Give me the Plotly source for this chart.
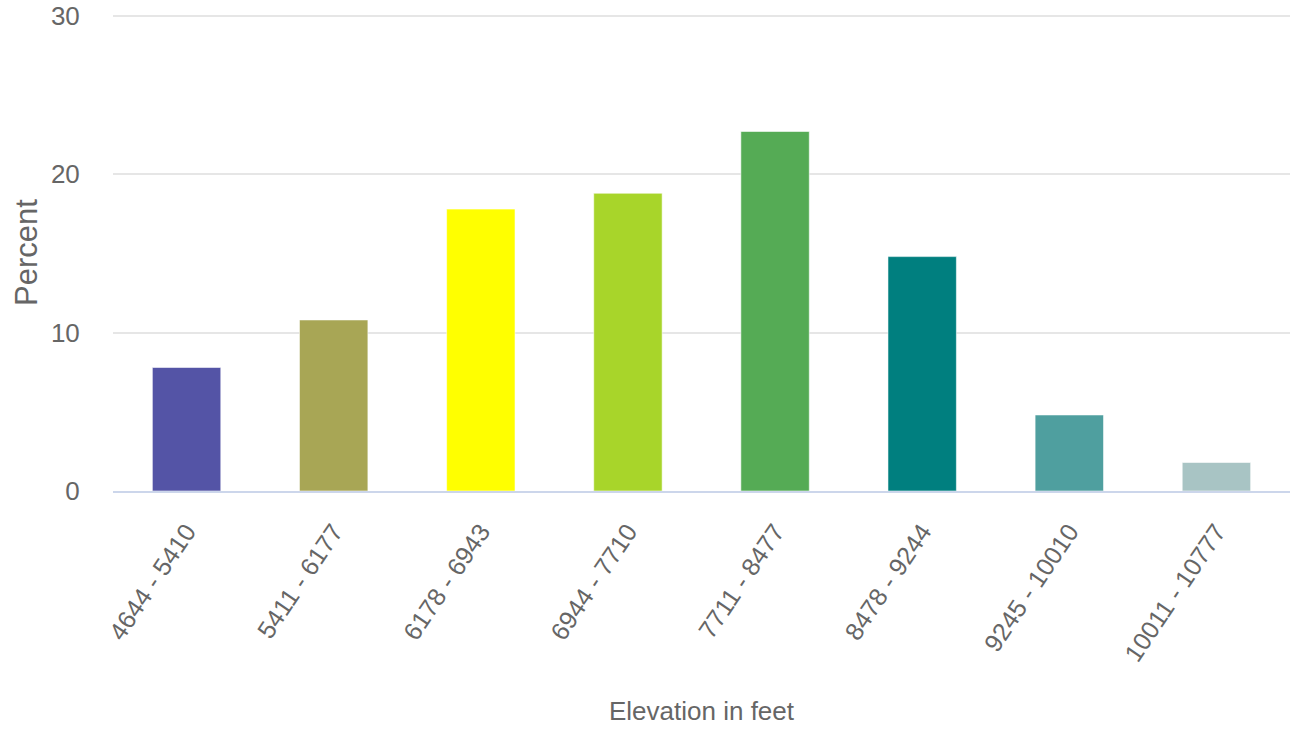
import plotly.graph_objects as go

# Elevation bands (feet) and share of area in each band (percent)
elevation_bands = [
    "4644 - 5410", "5411 - 6177", "6178 - 6943", "6944 - 7710",
    "7711 - 8477", "8478 - 9244", "9245 - 10010", "10011 - 10777",
]
percent = [7.8, 10.8, 17.8, 18.8, 22.7, 14.8, 4.8, 1.8]
band_colors = [
    "#5454A6", "#A8A655", "#FFFF00", "#A8D52A",
    "#55AB55", "#007F7F", "#4F9F9F", "#A8C4C4",
]
y_ticks = [0, 10, 20, 30]

FONT = "Liberation Sans, Arial, sans-serif"
TEXT = "#666666"

fig = go.Figure(
    go.Bar(
        x=elevation_bands,
        y=percent,
        marker=dict(
            color=band_colors,
            line=dict(color="rgba(255,255,255,0.55)", width=1),
        ),
        hoverinfo="x+y",
    )
)

fig.update_layout(
    width=1296,
    height=731,
    margin=dict(l=113, r=6, t=14, b=240),
    paper_bgcolor="white",
    plot_bgcolor="white",
    bargap=0.535,
    showlegend=False,
    font=dict(family=FONT, color=TEXT),
)

fig.update_xaxes(
    type="category",
    automargin=False,
    tickangle=-56,
    tickfont=dict(size=25, color=TEXT),
    showgrid=False,
    showline=True,
    linecolor="#ccd6eb",
    linewidth=2,
    ticks="outside",
    ticklen=14,
    tickcolor="rgba(0,0,0,0)",
    title=dict(text="Elevation in feet", font=dict(size=26, color=TEXT), standoff=36),
)

# small headroom above 30 so its gridline is drawn inside the plot area
fig.update_yaxes(
    automargin=False,
    range=[0, 30.12],
    tickvals=y_ticks,
    tickfont=dict(size=26, color=TEXT),
    showgrid=True,
    gridcolor="#e6e6e6",
    gridwidth=2,
    zeroline=False,
    showline=False,
    ticks="outside",
    ticklen=27,
    tickcolor="rgba(0,0,0,0)",
    title=dict(text="Percent", font=dict(size=31, color=TEXT), standoff=4),
)

fig.write_html("out.html")
